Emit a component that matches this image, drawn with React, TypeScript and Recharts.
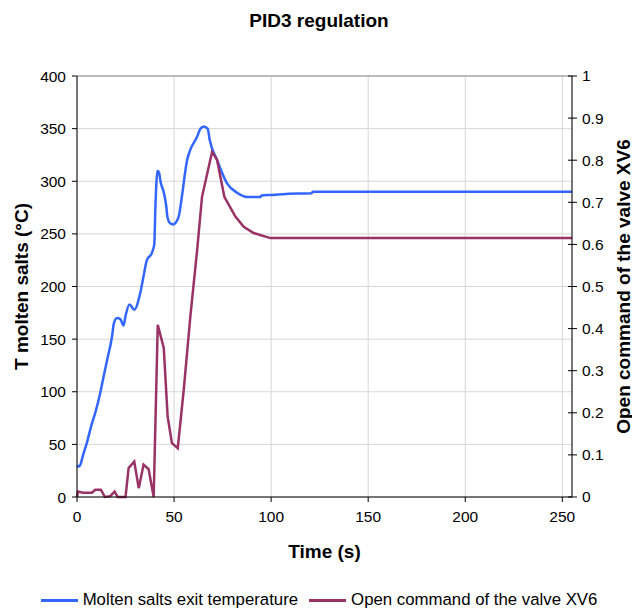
import React from 'react';
import { LineChart, Line, XAxis, YAxis, CartesianGrid, Legend, ReferenceLine } from 'recharts';

// Molten salts exit temperature (°C)
const tempTime = [0, 1, 2, 3, 5, 7.7, 9.4, 12, 13, 15.5, 18, 19, 20.6, 22.3, 24, 25, 27, 29.5, 32.6, 34.3, 36, 38.6, 39.8, 40.4, 41.5, 42.3, 43, 44.9, 46, 46.6, 48, 49.5, 51, 52.6, 54, 56.7, 58.4, 61.8, 63.6, 65.3, 67.3, 68.4, 72.2, 77.3, 82.5, 87.6, 94.5, 95, 100.8, 107.7, 120.7, 121.6, 255];
const tempValues = [30, 29, 32, 39, 51, 70, 80, 99, 108, 130, 152, 165, 170, 169, 163, 172, 183, 178, 194, 210, 225, 232, 240, 276, 310, 308, 300, 288, 276, 266, 260, 259, 261, 268, 285, 320, 330, 342, 350, 352, 350, 339, 320, 298, 289, 285, 285, 286.5, 287, 288, 288.5, 290, 290];

// Open command of the valve XV6 (0..1)
const valveTime = [0, 0.5, 3, 7.7, 9.4, 12.3, 14.4, 17.1, 19.4, 21, 25, 26.6, 29.5, 31.8, 34.3, 36.9, 39.5, 41.6, 44.7, 46.7, 48.9, 51.9, 55, 58.4, 61.9, 64.4, 69.6, 72.2, 75.9, 81.6, 85.9, 91, 99.6, 255];
const valveValues = [0, 0.013, 0.01, 0.01, 0.017, 0.017, 0, 0.002, 0.013, 0, 0, 0.069, 0.084, 0.021, 0.077, 0.066, 0, 0.409, 0.354, 0.191, 0.128, 0.116, 0.255, 0.429, 0.587, 0.713, 0.82, 0.8, 0.713, 0.666, 0.642, 0.627, 0.615, 0.615];

const timeTicks = [0, 50, 100, 150, 200, 250];
const tempTicks = [0, 50, 100, 150, 200, 250, 300, 350, 400];
const valveTicks = [0, 0.1, 0.2, 0.3, 0.4, 0.5, 0.6, 0.7, 0.8, 0.9, 1];

const tempData = tempTime.map((t, i) => ({ t, temp: tempValues[i] }));
const valveData = valveTime.map((t, i) => ({ t, valve: valveValues[i] }));

const BLUE = '#3366ff';
const RED = '#993366';
const FONT = '"Liberation Sans", Arial, sans-serif';
const tickStyle = { fontSize: 15.5, fill: '#000', fontFamily: FONT };

// right axis ticks cross the axis line
const RightTick = (props: any) => {
  const { x, y, payload } = props;
  return (
    <g>
      <line x1={x - 14} x2={x - 5} y1={y} y2={y} stroke="#000" />
      <text x={x} y={y} dy="0.35em" textAnchor="start" style={tickStyle}>
        {String(payload.value)}
      </text>
    </g>
  );
};

const LegendContent = () => (
  <div style={{ display: 'flex', justifyContent: 'center', alignItems: 'center', height: 24, fontFamily: FONT, fontSize: 16.8, color: '#000', paddingLeft: 6 }}>
    <span style={{ display: 'inline-block', width: 37, height: 3, background: BLUE, marginRight: 5 }} />
    <span style={{ marginRight: 11 }}>Molten salts exit temperature</span>
    <span style={{ display: 'inline-block', width: 37, height: 3, background: RED, marginRight: 5 }} />
    <span>Open command of the valve XV6</span>
  </div>
);

const App: React.FC = () => {
  return (
    <div style={{ position: 'absolute', left: 0, top: 0, width: 632, height: 612, background: '#fff' }}>
      <div style={{ position: 'absolute', left: 0, top: 11, width: 638, textAlign: 'center', fontFamily: FONT, fontWeight: 'bold', fontSize: 19, lineHeight: '19px' }}>
        PID3 regulation
      </div>
      <LineChart width={632} height={612} margin={{ top: 76, right: 0, bottom: 0, left: 0 }}>
        <CartesianGrid yAxisId="left" stroke="#d6d6d6" />
        <XAxis
          dataKey="t"
          type="number"
          domain={[0, 255]}
          ticks={timeTicks}
          height={91}
          tickSize={5}
          tickMargin={9}
          tick={tickStyle}
          stroke="#000"
          label={{
            content: ({ viewBox }: any) => (
              <text x={viewBox.x + viewBox.width / 2} y={viewBox.y + 61} textAnchor="middle" style={{ fontFamily: FONT, fontWeight: 'bold', fontSize: 19 }}>
                Time (s)
              </text>
            ),
          }}
        />
        <YAxis
          yAxisId="left"
          domain={[0, 400]}
          ticks={tempTicks}
          width={77}
          tickSize={5}
          tickMargin={6}
          tick={tickStyle}
          stroke="#000"
          label={{
            content: ({ viewBox }: any) => {
              const cx = 21;
              const cy = viewBox.y + viewBox.height / 2;
              return (
                <text x={cx} y={cy} transform={`rotate(-90 ${cx} ${cy})`} textAnchor="middle" dominantBaseline="central" style={{ fontFamily: FONT, fontWeight: 'bold', fontSize: 19 }}>
                  T molten salts (°C)
                </text>
              );
            },
          }}
        />
        <YAxis
          yAxisId="right"
          orientation="right"
          domain={[0, 1]}
          ticks={valveTicks}
          width={60}
          tickSize={5}
          tickMargin={5}
          tickLine={false}
          tick={<RightTick />}
          stroke="#000"
          label={{
            content: ({ viewBox }: any) => {
              const cx = 623;
              const cy = viewBox.y + viewBox.height / 2;
              return (
                <text x={cx} y={cy} transform={`rotate(-90 ${cx} ${cy})`} textAnchor="middle" dominantBaseline="central" style={{ fontFamily: FONT, fontWeight: 'bold', fontSize: 19 }}>
                  Open command of the valve XV6
                </text>
              );
            },
          }}
        />
        <ReferenceLine yAxisId="left" y={400} stroke="#8c8c8c" />
        <Legend verticalAlign="bottom" content={<LegendContent />} />
        <Line yAxisId="left" data={tempData} dataKey="temp" type="monotone" stroke={BLUE} strokeWidth={2.5} dot={false} isAnimationActive={false} name="Molten salts exit temperature" />
        <Line yAxisId="right" data={valveData} dataKey="valve" type="linear" stroke={RED} strokeWidth={2.5} dot={false} isAnimationActive={false} name="Open command of the valve XV6" />
      </LineChart>
    </div>
  );
};

export default App;
